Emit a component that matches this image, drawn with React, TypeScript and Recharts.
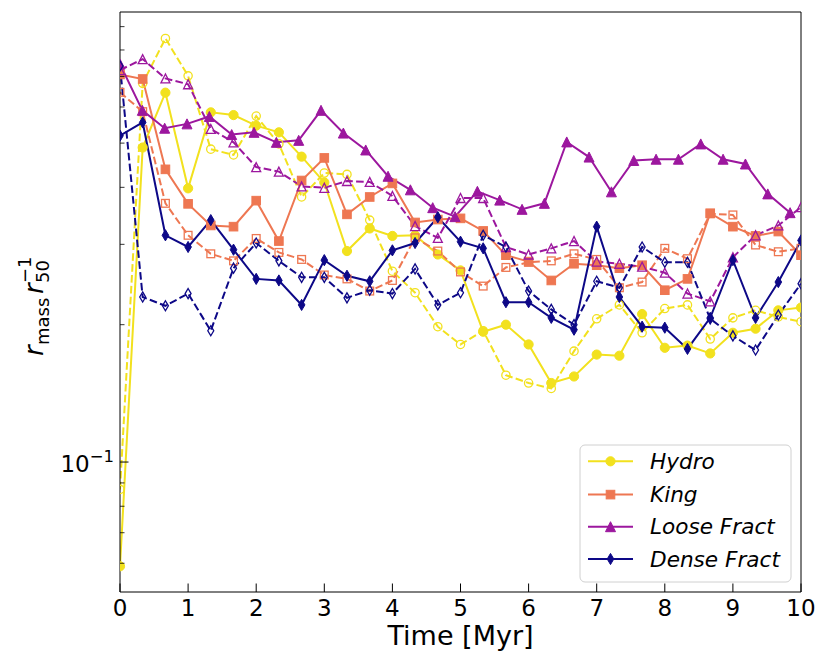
import React from "react";
import { LineChart, Line, XAxis, YAxis, ReferenceLine } from "recharts";

// time grid (Myr); the Loose Fract solid run is sampled slightly tighter
const TIME = [
  0, 0.333, 0.667, 1, 1.333, 1.667, 2, 2.333, 2.667, 3, 3.333, 3.667, 4, 4.333, 4.667, 5,
  5.333, 5.667, 6, 6.333, 6.667, 7, 7.333, 7.667, 8, 8.333, 8.667, 9, 9.333, 9.667, 10,
];
const LOOSE_TIME = [
  0, 0.328, 0.656, 0.984, 1.312, 1.64, 1.968, 2.296, 2.624, 2.952, 3.28, 3.608, 3.936, 4.264,
  4.592, 4.92, 5.248, 5.576, 5.904, 6.232, 6.56, 6.888, 7.216, 7.544, 7.872, 8.2, 8.528,
  8.856, 9.184, 9.512, 9.84,
];

const HYDRO = [
  0.0591, 0.489, 0.645, 0.398, 0.584, 0.576, 0.546, 0.528, 0.467, 0.41, 0.29, 0.325, 0.313,
  0.314, 0.285, 0.263, 0.193, 0.2, 0.181, 0.149, 0.154, 0.172, 0.171, 0.211, 0.178, 0.18,
  0.173, 0.192, 0.196, 0.215, 0.218,
];
const HYDRO_DASH = [
  0.0871, 0.676, 0.848, 0.702, 0.485, 0.471, 0.573, 0.498, 0.381, 0.43, 0.427, 0.339, 0.262,
  0.235, 0.198, 0.181, 0.194, 0.155, 0.149, 0.145, 0.175, 0.206, 0.221, 0.192, 0.217, 0.221,
  0.186, 0.207, 0.215, 0.208, 0.203,
];
const KING = [
  0.707, 0.691, 0.438, 0.368, 0.33, 0.328, 0.374, 0.305, 0.414, 0.464, 0.349, 0.381, 0.408,
  0.335, 0.34, 0.342, 0.321, 0.284, 0.275, 0.25, 0.272, 0.27, 0.266, 0.27, 0.238, 0.252,
  0.351, 0.328, 0.313, 0.32, 0.284,
];
const KING_DASH = [
  0.646, 0.586, 0.369, 0.314, 0.286, 0.276, 0.309, 0.288, 0.278, 0.257, 0.252, 0.237, 0.25,
  0.31, 0.29, 0.261, 0.243, 0.267, 0.274, 0.276, 0.286, 0.278, 0.241, 0.248, 0.294, 0.279,
  0.35, 0.348, 0.299, 0.289, 0.294,
];
const LOOSE = [
  0.745, 0.59, 0.539, 0.551, 0.572, 0.522, 0.528, 0.502, 0.507, 0.59, 0.526, 0.483, 0.423,
  0.395, 0.361, 0.345, 0.392, 0.375, 0.358, 0.369, 0.503, 0.466, 0.391, 0.458, 0.461, 0.461,
  0.498, 0.461, 0.45, 0.387, 0.352,
];
const LOOSE_DASH = [
  0.723, 0.764, 0.693, 0.673, 0.537, 0.502, 0.443, 0.433, 0.402, 0.399, 0.413, 0.411, 0.383,
  0.329, 0.31, 0.379, 0.379, 0.296, 0.285, 0.294, 0.305, 0.275, 0.272, 0.268, 0.26, 0.234,
  0.225, 0.281, 0.314, 0.33, 0.362,
];
const DENSE = [
  0.519, 0.555, 0.314, 0.296, 0.339, 0.292, 0.252, 0.25, 0.221, 0.277, 0.256, 0.249, 0.291,
  0.302, 0.344, 0.304, 0.294, 0.224, 0.224, 0.207, 0.195, 0.328, 0.23, 0.198, 0.197, 0.177,
  0.207, 0.277, 0.207, 0.248, 0.306,
];
const DENSE_DASH = [
  0.738, 0.23, 0.22, 0.234, 0.194, 0.266, 0.302, 0.276, 0.254, 0.254, 0.229, 0.238, 0.234,
  0.265, 0.221, 0.235, 0.314, 0.296, 0.237, 0.216, 0.2, 0.249, 0.241, 0.296, 0.274, 0.274,
  0.206, 0.189, 0.176, 0.21, 0.246,
];

const X_TICKS = [0, 1, 2, 3, 4, 5, 6, 7, 8, 9, 10];
const Y_TICKS = [0.06, 0.07, 0.08, 0.09, 0.1, 0.2, 0.3, 0.4, 0.5, 0.6, 0.7, 0.8, 0.9];
const Y_MIN = 0.0519;
const Y_MAX = 0.969;

const LABELS = ["Hydro", "King", "Loose Fract", "Dense Fract"];
const COLORS = ["#f2e11e", "#ee7752", "#9c179e", "#0d0887"];
const SHAPES = ["circle", "square", "triangle", "diamond"];

const FONT = "DejaVu Sans, sans-serif";

const toPoints = (times: number[], values: number[]) =>
  values.map((v, i) => ({ t: times[i], v }));

function Marker({ shape, cx, cy, color, filled }: any) {
  const fill = filled ? color : "none";
  const sw = filled ? 1 : 1.3;
  const s = filled ? 1 : 0.9;
  if (shape === "circle")
    return <circle cx={cx} cy={cy} r={4.6 * s} fill={fill} stroke={color} strokeWidth={sw} />;
  if (shape === "square") {
    const h = 4.3 * s;
    return <rect x={cx - h} y={cy - h} width={2 * h} height={2 * h} fill={fill} stroke={color} strokeWidth={sw} />;
  }
  if (shape === "triangle") {
    const h = 5 * s;
    return (
      <polygon
        points={`${cx},${cy - h} ${cx - h},${cy + h} ${cx + h},${cy + h}`}
        fill={fill}
        stroke={color}
        strokeWidth={sw}
      />
    );
  }
  const h = 5.6 * s;
  const w = 3.3 * s;
  return (
    <polygon
      points={`${cx},${cy - h} ${cx + w},${cy} ${cx},${cy + h} ${cx - w},${cy}`}
      fill={fill}
      stroke={color}
      strokeWidth={sw}
    />
  );
}

const dotFor = (k: number, filled: boolean) => (props: any) =>
  (
    <Marker
      key={`m-${k}-${filled ? 1 : 0}-${props.index}`}
      shape={SHAPES[k]}
      cx={props.cx}
      cy={props.cy}
      color={COLORS[k]}
      filled={filled}
    />
  );

function XTick({ x, y, payload }: any) {
  return (
    <g>
      <line x1={x} x2={x} y1={y} y2={y - 8.5} stroke="#000" strokeWidth={1} />
      <text x={x} y={y + 24} textAnchor="middle" fontSize={23} fontFamily={FONT} fill="#000">
        {payload.value}
      </text>
    </g>
  );
}

function YTick({ x, y, payload }: any) {
  const major = Math.abs(payload.value - 0.1) < 1e-9;
  return (
    <g>
      <line x1={x} x2={x + (major ? 8.5 : 4.5)} y1={y} y2={y} stroke="#000" strokeWidth={major ? 1 : 0.8} />
      {major && (
        <text x={x - 6} y={y + 10} textAnchor="end" fontSize={23} fontFamily={FONT} fill="#000">
          <tspan>10</tspan>
          <tspan dy={-10} fontSize={16.5}>−1</tspan>
        </text>
      )}
    </g>
  );
}

function XLabel({ viewBox }: any) {
  const cx = viewBox.x + viewBox.width / 2;
  return (
    <text x={cx} y={viewBox.y + 53} textAnchor="middle" fontSize={27} fontFamily={FONT} fill="#000">
      Time [Myr]
    </text>
  );
}

function YLabel({ viewBox }: any) {
  const cy = viewBox.y + viewBox.height / 2;
  return (
    <g transform={`translate(43, ${cy}) rotate(-90)`} fontFamily={FONT} fill="#000">
      <text x={-54} y={0} fontSize={26} fontStyle="italic">r</text>
      <text x={-43} y={6} fontSize={18}>mass</text>
      <text x={8} y={0} fontSize={26} fontStyle="italic">r</text>
      <text x={19} y={6} fontSize={18}>50</text>
      <text x={19} y={-12} fontSize={18}>−1</text>
    </g>
  );
}

function LegendBox() {
  const rows = [17.3, 50.6, 82.7, 115];
  return (
    <svg
      width={213}
      height={139}
      style={{ position: "absolute", left: 579, top: 444 }}
    >
      <rect x={1} y={1} width={211} height={137} rx={5} fill="rgba(255,255,255,0.8)" stroke="#d0d0d0" />
      {LABELS.map((label, k) => (
        <g key={label}>
          <line x1={9} x2={54} y1={rows[k]} y2={rows[k]} stroke={COLORS[k]} strokeWidth={2} />
          <Marker shape={SHAPES[k]} cx={31.5} cy={rows[k]} color={COLORS[k]} filled />
          <text
            x={71}
            y={rows[k] + 7.5}
            fontSize={21.6}
            fontStyle="italic"
            fontFamily={FONT}
            fill="#000"
          >
            {label}
          </text>
        </g>
      ))}
    </svg>
  );
}

const SERIES = [
  { k: 0, data: toPoints(TIME, HYDRO), filled: true },
  { k: 0, data: toPoints(TIME, HYDRO_DASH), filled: false },
  { k: 1, data: toPoints(TIME, KING), filled: true },
  { k: 1, data: toPoints(TIME, KING_DASH), filled: false },
  { k: 2, data: toPoints(LOOSE_TIME, LOOSE), filled: true },
  { k: 2, data: toPoints(TIME, LOOSE_DASH), filled: false },
  { k: 3, data: toPoints(TIME, DENSE), filled: true },
  { k: 3, data: toPoints(TIME, DENSE_DASH), filled: false },
];

export default function App() {
  return (
    <div
      style={{
        position: "absolute",
        left: 0,
        top: 0,
        width: 830,
        height: 664,
        background: "#fff",
      }}
    >
      <LineChart width={830} height={664} margin={{ top: 12, right: 29, bottom: 0, left: 0 }}>
        <XAxis
          type="number"
          dataKey="t"
          domain={[0, 10]}
          ticks={X_TICKS}
          interval={0}
          allowDataOverflow
          height={72}
          tickSize={0}
          tickMargin={0}
          tickLine={false}
          axisLine={{ stroke: "#000", strokeWidth: 1 }}
          tick={<XTick />}
          label={<XLabel />}
        />
        <YAxis
          type="number"
          dataKey="v"
          scale="log"
          domain={[Y_MIN, Y_MAX]}
          allowDataOverflow
          ticks={Y_TICKS}
          interval={0}
          width={120}
          tickSize={0}
          tickMargin={0}
          tickLine={false}
          axisLine={{ stroke: "#000", strokeWidth: 1 }}
          tick={<YTick />}
          label={<YLabel />}
        />
        <ReferenceLine x={10} stroke="#000" strokeWidth={1} />
        <ReferenceLine y={Y_MAX} stroke="#000" strokeWidth={1} />
        {SERIES.map((s, idx) => (
          <Line
            key={idx}
            data={s.data}
            dataKey="v"
            type="linear"
            stroke={COLORS[s.k]}
            strokeWidth={2}
            strokeDasharray={s.filled ? undefined : "7.6 3.3"}
            dot={dotFor(s.k, s.filled)}
            activeDot={false}
            legendType="none"
            isAnimationActive={false}
          />
        ))}
      </LineChart>
      <LegendBox />
    </div>
  );
}
